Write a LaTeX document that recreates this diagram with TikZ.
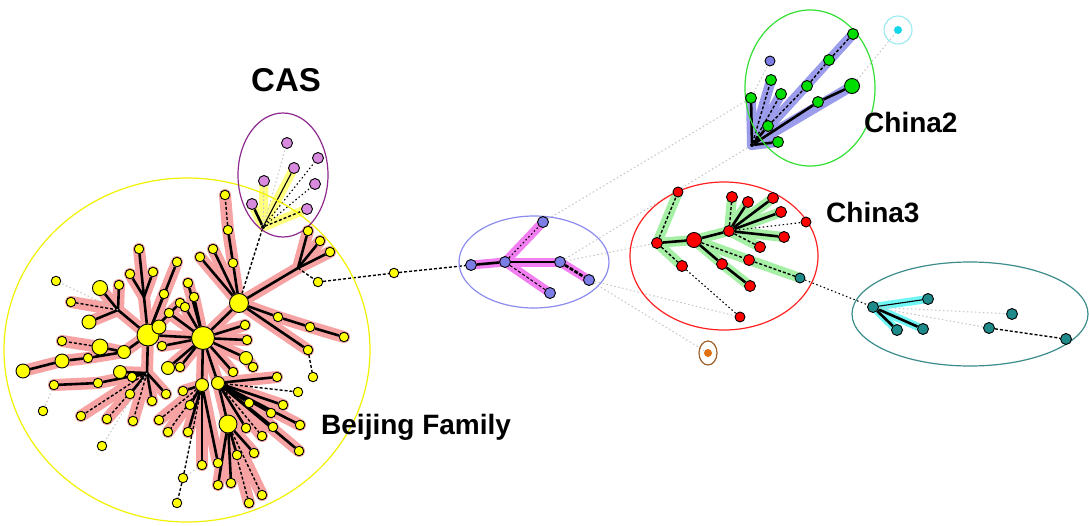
\documentclass[tikz,border=0pt]{standalone}
\usepackage{fontspec}
\setmainfont{Liberation Sans}
\pgfdeclarelayer{bg}
\pgfdeclarelayer{hl}
\pgfdeclarelayer{ed}
\pgfsetlayers{bg,hl,ed,main}
\definecolor{pinkhl}{HTML}{F7A3A3}
\definecolor{greenhl}{HTML}{A6F0A6}
\definecolor{bluehl}{HTML}{9C9CEC}
\definecolor{maghl}{HTML}{F27EF2}
\definecolor{yelhl}{HTML}{FFFF80}
\definecolor{cyanhl}{HTML}{70F5F5}
\definecolor{ynode}{HTML}{FFFF00}
\definecolor{pnode}{HTML}{D88ADE}
\definecolor{bnode}{HTML}{7D7DE6}
\definecolor{rnode}{HTML}{FF0000}
\definecolor{gnode}{HTML}{00DD00}
\definecolor{tnode}{HTML}{1E8A8A}
\definecolor{cnode}{HTML}{10D8E8}
\definecolor{onode}{HTML}{E07010}
\definecolor{ellY}{HTML}{F2F200}
\definecolor{ellP}{HTML}{8E2A8E}
\definecolor{ellB}{HTML}{8C8CF0}
\definecolor{ellR}{HTML}{FF2020}
\definecolor{ellG}{HTML}{33E033}
\definecolor{ellT}{HTML}{3C8C8C}
\definecolor{ellC}{HTML}{90E8F0}
\definecolor{ellO}{HTML}{A0602A}
\tikzset{
  nd/.style={circle,draw=black,line width=0.9pt,inner sep=0pt,minimum size=9.5pt},
  yn/.style={nd,fill=ynode},
  pn/.style={nd,fill=pnode,minimum size=11pt},
  bn/.style={nd,fill=bnode,minimum size=11pt},
  rn/.style={nd,fill=rnode,minimum size=11pt},
  gn/.style={nd,fill=gnode,minimum size=11pt},
  tn/.style={nd,fill=tnode,minimum size=11pt},
  root/.style={circle,fill=black,inner sep=0pt,minimum size=4pt},
  thk/.style={black,line width=2.6pt},
  med/.style={black,line width=1.1pt},
  dsh/.style={black,line width=1.4pt,dash pattern=on 3pt off 2pt},
  dotb/.style={black,line width=1.1pt,dash pattern=on 1.5pt off 2.5pt},
  gry/.style={gray!45,line width=1pt,dash pattern=on 1.5pt off 2.5pt},
  phl/.style={pinkhl,line width=12pt,line cap=round},
  ghl/.style={greenhl,line width=10pt,line cap=round},
  bhl/.style={bluehl,line width=10pt,line cap=round},
  mhl/.style={maghl,line width=9pt,line cap=round},
  yhl/.style={yelhl,line width=9pt,line cap=round},
  chl/.style={cyanhl,line width=8pt,line cap=round},
  lab/.style={font=\bfseries\fontsize{28}{28}\selectfont,inner sep=0pt,anchor=base west},
}
\begin{document}
\begin{tikzpicture}[x=1pt,y=-1pt]
\useasboundingbox (0,0) rectangle (1089,525);
\begin{pgfonlayer}{bg}
\fill[white] (0,0) rectangle (1089,525);
\end{pgfonlayer}
% group ellipses
\draw[ellY,line width=1.2pt] (187,350) ellipse [x radius=183pt,y radius=172pt];
\draw[ellP,line width=1.2pt] (283,175) ellipse [x radius=45pt,y radius=62pt];
\draw[ellB,line width=1.2pt] (534,262) ellipse [x radius=75pt,y radius=46pt];
\draw[ellR,line width=1.2pt] (724,256) ellipse [x radius=94pt,y radius=74pt];
\draw[ellG,line width=1.2pt] (810,88) ellipse [x radius=65pt,y radius=78pt];
\draw[ellT,line width=1.2pt] (970,314) ellipse [x radius=118pt,y radius=52pt];
\draw[ellC,line width=1pt] (898,30) circle [radius=14pt];
\draw[ellO,line width=1.2pt] (708,353) ellipse [x radius=9pt,y radius=12pt];
% Beijing nodes
\foreach \n/\x/\y/\s in {A/203/338/23,B/148/335/22,C/239/303/19,D/228/424/18,E/100/347/16,
  m1/159/327/14,m2/100/288/15,m3/89/322/14,m4/62/361/14,m5/23/371/14,m6/124/352/13,
  m7/168/368/13,m8/120/372/13,m9/202/385/13,m10/218/383/13,m11/246/358/13}
  \node[yn,minimum size=\s pt] (\n) at (\x,\y) {};
\foreach \n/\x/\y in {s1/225/195,s2/228/230,s3/233/263,s4/213/249,s5/200/257,s6/139/249,
  s7/177/262,s8/153/272,s9/130/274,s10/119/285,s11/188/283,s12/194/297,s13/164/294,
  s14/180/303,s15/185/307,s16/169/313,s17/56/281,s18/71/302,s19/62/341,s20/88/358,
  s21/54/385,s22/43/411,s23/98/383,s24/130/394,s25/152/401,s26/166/394,s27/183/391,
  s28/180/367,s29/162/346,s30/132/377,s31/81/416,s32/107/419,s33/133/421,s34/102/446,
  s35/159/420,s36/168/432,s37/188/432,s38/190/405,s39/245/325,s40/247/340,s41/253/367,
  s42/233/372,s43/249/403,s44/271/413,s45/283/405,s46/277/377,s47/298/392,s48/300/425,
  s49/299/451,s50/273/427,s51/262/436,s52/246/428,s53/237/455,s54/254/453,s55/218/463,
  s56/202/465,s58/183/478,s59/177/503,s60/218/485,s61/231/483,s62/249/503,s63/262/495,
  s64/278/317,s65/310/327,s66/344/337,s67/308/350,s68/313/377,s69/318/282,s70/308/231,
  s71/320/241,s72/330/252,s73/394/273}
  \node[yn] (\n) at (\x,\y) {};
\coordinate (j2) at (298,268);
\coordinate (j3) at (118,310);
\coordinate (j4) at (144,297);
\coordinate (j5) at (147,373);
% CAS nodes
\node[root] (r) at (263,227) {};
\foreach \n/\x/\y in {p1/287/143,p2/318/158,p3/294/168,p4/264/181,p5/315/184,p6/252/204,p7/307/209}
  \node[pn] (\n) at (\x,\y) {};
% middle nodes
\foreach \n/\x/\y in {q1/543/222,q2/471/265,q3/505/262,q4/560/262,q5/589/280,q6/550/293}
  \node[bn] (\n) at (\x,\y) {};
% China3 nodes
\foreach \n/\x/\y/\s in {t1/678/192/10,t2/732/197/11,t3/748/202/11,t4/773/198/11,t5/781/212/11,
  t6/806/222/10,t7/784/237/11,t8/760/247/11,t9/729/231/11,t10/694/240/15,t11/657/243/11,
  t12/682/266/11,t13/749/260/11,t14/722/264/11,t15/750/286/11,t17/740/317/10}
  \node[rn,minimum size=\s pt] (\n) at (\x,\y) {};
\node[tn,minimum size=10pt] (t16) at (800,278) {};
% China2 nodes
\node[root] (g0) at (752,145) {};
\foreach \n/\x/\y/\s in {g1/853/34/11,g2/829/60/11,g3/807/86/11,g4/852/86/15,g5/818/102/11,
  g6/781/94/11,g7/771/80/11,g8/751/98/11,g9/768/126/11,g10/778/142/11}
  \node[gn,minimum size=\s pt] (\n) at (\x,\y) {};
\node[bn,minimum size=10pt] (g11) at (770,61) {};
\node[nd,fill=cnode,draw=none,minimum size=8pt] (x1) at (898,30) {};
% teal nodes
\foreach \n/\x/\y in {u1/873/307,u2/928/299,u3/897/330,u4/923/329,u5/1012/314,u6/989/328,u7/1066/339}
  \node[tn] (\n) at (\x,\y) {};
\node[nd,fill=onode,draw=none,minimum size=8pt] (o1) at (708,353) {};
% labels
\node[lab,font=\bfseries\fontsize{33}{33}\selectfont] (lcas) at (251,91) {CAS};
\node[lab] (lbj) at (321,434) {Beijing Family};
\node[lab] (lc2) at (864,132) {China2};
\node[lab] (lc3) at (826,222) {China3};
% highlights
\begin{pgfonlayer}{hl}
\foreach \a/\b in {A/C,A/B,A/m10,A/m9,A/m11,A/s39,A/s40,A/s42,A/s12,A/s15,A/s16,A/s29,A/s28,A/m7,A/s11,
  C/s3,s3/s2,s2/s1,C/s4,C/s5,C/s64,s64/s65,s65/s66,C/s67,C/j2,j2/s70,j2/s71,j2/s72,
  B/m1,B/m6,m6/E,E/s19,m6/s20,s20/m4,m4/m5,B/j4,j4/s6,j4/s9,j4/s8,B/j3,j3/m2,j3/s10,j3/m3,j3/s18,
  B/s7,B/s13,B/s14,m11/s41,B/j5,j5/m8,j5/s23,j5/s24,j5/s25,j5/s26,j5/s30,j5/s31,j5/s32,j5/s33,s23/s21,
  m9/s27,m9/s38,m9/s37,m9/s36,m9/s35,m9/s56,m9/s55,m10/D,m10/s43,m10/s44,m10/s45,m10/s46,m10/s48,
  m10/s49,m10/s50,m10/s51,m10/s52,D/s53,D/s54,D/s61,D/s60,D/s62,D/s63}
  \draw[phl] (\a.center) -- (\b.center);
\foreach \a/\b in {r/p3,r/p6,r/p7,r/p4}
  \draw[yhl] (\a.center) -- (\b.center);
\foreach \a/\b in {q2/q3,q3/q1,q3/q4,q4/q5,q3/q6}
  \draw[mhl] (\a.center) -- (\b.center);
\foreach \a/\b in {t11/t1,t11/t10,t11/t12,t10/t9,t9/t2,t9/t3,t9/t4,t9/t5,t9/t7,t9/t8,t10/t13,t13/t16,t10/t14,t14/t15}
  \draw[ghl] (\a.center) -- (\b.center);
\foreach \a/\b in {g0/g1,g0/g4,g0/g7,g0/g6,g0/g10,g0/g8}
  \draw[bhl] (\a.center) -- (\b.center);
\foreach \a/\b in {u1/u2,u1/u3,u1/u4}
  \draw[chl] (\a.center) -- (\b.center);
\end{pgfonlayer}
% connectors
\begin{pgfonlayer}{ed}
\foreach \a/\b in {A/C,A/B,A/m10,A/m9,A/m11,A/s39,A/s40,A/s42,A/s12,A/s15,A/s16,A/s29,A/s28,A/m7,A/s11,
  C/s3,s3/s2,C/s4,C/s5,C/s64,s64/s65,s65/s66,C/s67,C/j2,j2/s70,j2/s71,j2/s72,
  B/m1,B/m6,m6/E,m6/s20,s20/m4,m4/m5,B/j4,j4/s6,j4/s9,j4/s8,B/j3,j3/m2,j3/s10,j3/m3,
  B/s7,B/s13,B/s14,m11/s41,B/j5,j5/m8,j5/s23,j5/s24,j5/s25,j5/s26,j5/s30,s23/s21,
  m9/s27,m9/s38,m9/s37,m9/s56,m9/s55,m10/D,m10/s43,m10/s44,m10/s45,m10/s46,m10/s48,
  m10/s49,m10/s50,m10/s52,D/s53,D/s54,D/s61,D/s60}
  \draw[thk] (\a) -- (\b);
\foreach \a/\b in {s2/s1,j5/s31,j5/s32,j5/s33,m9/s35,m9/s36,D/s62,D/s63,m10/s51,j3/s18,E/s19,
  j2/s69,s67/s68,C/r,s69/s73,s73/q2,m10/s47,s58/s59,m9/s58}
  \draw[dsh] (\a) -- (\b);
\foreach \a/\b in {s21/s22,j5/s34,j3/s17,s56/s58}
  \draw[gry] (\a) -- (\b);
% CAS
\draw[thk] (r) -- (p6);
\draw[med] (r) -- (p3);
\draw[dsh] (r) -- (p7);
\draw[gry] (r) -- (p4);
\draw[gry] (r) -- (p1);
\draw[dotb] (r) -- (p2);
\draw[dotb] (r) -- (p5);
% middle
\draw[thk] (q2) -- (q3);
\draw[dotb] (q3) -- (q1);
\draw[med] (q3) -- (q4);
\draw[thk,dash pattern=on 4pt off 1.5pt] (q4) -- (q5);
\draw[dsh,line width=1pt] (q3) -- (q6);
% China3
\foreach \a/\b in {t11/t10,t10/t9,t9/t3,t9/t4,t9/t5,t9/t7,t10/t14,t14/t15}
  \draw[thk] (\a) -- (\b);
\foreach \a/\b in {t11/t1,t11/t12,t9/t2,t9/t8,t10/t13,t13/t16}
  \draw[dsh] (\a) -- (\b);
\draw[dotb] (t12) -- (t17);
\draw[dotb] (t9) -- (t6);
% China2
\foreach \a/\b in {g0/g9,g0/g5,g5/g4,g0/g8,g0/g10}
  \draw[thk] (\a) -- (\b);
\foreach \a/\b in {g9/g3,g3/g2,g2/g1,g0/g6,g0/g7}
  \draw[dsh] (\a) -- (\b);
% teal
\draw[med] (u1) -- (u2);
\draw[thk] (u1) -- (u3);
\draw[thk] (u1) -- (u4);
\draw[gry] (u1) -- (u6);
\draw[dsh] (u6) -- (u7);
\draw[dotb] (t16) -- (u1);
% long grey links
\draw[gry] (q4) -- (g0);
\draw[gry] (q1) -- (g8);
\draw[gry] (q4) -- (t11);
\draw[gry] (q5) -- (o1);
\draw[gry] (q5) -- (t17);
\draw[gry] (g8) -- (g11);
\draw[gry] (g4) -- (x1);
\draw[gry] (u1) -- (u5);
\end{pgfonlayer}
\end{tikzpicture}
\end{document}
